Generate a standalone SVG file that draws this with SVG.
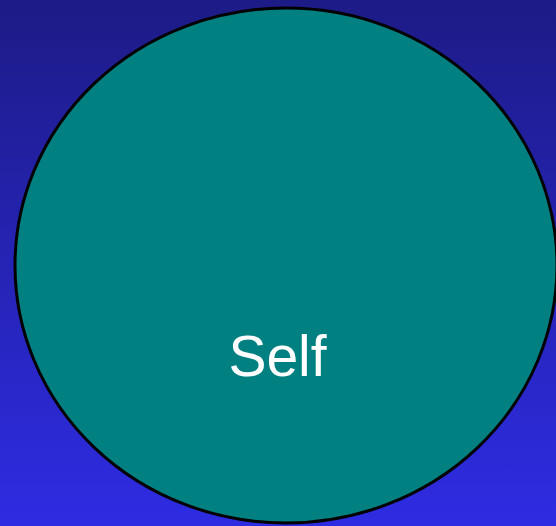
<svg xmlns="http://www.w3.org/2000/svg" width="556" height="526" viewBox="0 0 556 526">
<defs>
<linearGradient id="bg" x1="0" y1="0" x2="0" y2="1">
<stop offset="0" stop-color="#1d1b86"/>
<stop offset="1" stop-color="#2e2ce2"/>
</linearGradient>
<style>
.node{fill:#008080;stroke:#000;stroke-width:3}
.label{font-family:"Liberation Sans",Arial,sans-serif;font-size:57px;fill:#fff;text-anchor:middle}
</style>
</defs>
<rect x="0" y="0" width="556" height="526" fill="url(#bg)"/>
<g id="connectors"></g>
<g id="self">
<ellipse class="node" cx="286" cy="265.5" rx="271" ry="257.5"/>
<text class="label" x="277.5" y="376">Self</text>
</g>
</svg>
